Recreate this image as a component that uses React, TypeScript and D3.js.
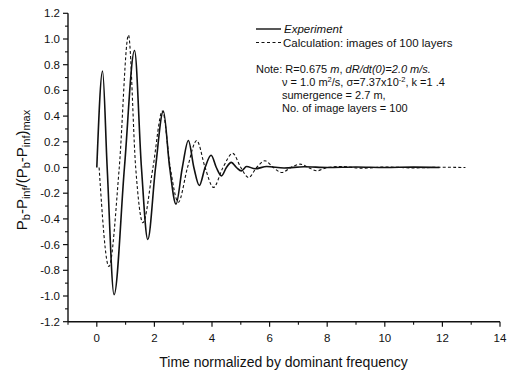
import React from "react";
import * as d3 from "d3";

const W = 507;
const H = 371;

// Experiment (solid): [time, normalized pressure]
const experimentT = [0, 0.2, 0.36, 0.6, 0.96, 1.31, 1.55, 1.77, 2.04, 2.31, 2.53, 2.75, 2.97, 3.18, 3.37, 3.56, 3.76, 3.97, 4.15, 4.33, 4.5, 4.67, 4.85, 5.02, 5.2, 5.5, 5.9, 6.5, 7.2, 8, 9, 10, 11, 11.9];
const experimentV = [0, 0.75, 0.0, -0.99, 0.0, 0.91, 0.0, -0.56, 0, 0.44, 0, -0.285, 0, 0.21, 0, -0.14, 0, 0.095, 0, -0.065, 0, 0.04, 0, -0.026, 0.008, -0.01, 0.008, -0.004, 0.006, 0.0, 0.004, 0, 0.003, 0.0];

// Calculation (dashed)
const calcT = [0.08, 0.42, 0.78, 1.1, 1.35, 1.6, 1.95, 2.28, 2.55, 2.83, 3.15, 3.47, 3.76, 4.05, 4.38, 4.72, 5.0, 5.27, 5.55, 5.84, 6.13, 6.42, 6.74, 7.06, 7.35, 7.64, 8.0, 8.5, 9.2, 10, 11, 12, 12.8];
const calcV = [0, -0.77, 0, 1.03, 0, -0.43, 0, 0.44, 0, -0.27, 0, 0.21, 0, -0.155, 0, 0.11, 0, -0.078, 0, 0.052, 0, -0.039, 0, 0.026, 0, -0.026, 0, 0.008, -0.006, 0.004, -0.003, 0.002, 0];

const xMajorTicks = [0, 2, 4, 6, 8, 10, 12, 14];
const xMinorTicks = [-1, 1, 3, 5, 7, 9, 11, 13];
const yMajorTicks = [1.2, 1.0, 0.8, 0.6, 0.4, 0.2, 0.0, -0.2, -0.4, -0.6, -0.8, -1.0, -1.2];
const yMinorTicks = [1.1, 0.9, 0.7, 0.5, 0.3, 0.1, -0.1, -0.3, -0.5, -0.7, -0.9, -1.1];

const legendLabels = ["Experiment", "Calculation: images of 100 layers"];
const xTitle = "Time normalized by dominant frequency";

const FONT = "'Liberation Sans', Arial, sans-serif";

export default function App() {
  const x = d3.scaleLinear().domain([-1, 14]).range([68, 500]);
  const y = d3.scaleLinear().domain([-1.2, 1.2]).range([321.7, 13.3]);

  const line = d3
    .line<[number, number]>()
    .x((d) => x(d[0]))
    .y((d) => y(d[1]))
    .curve(d3.curveMonotoneX);

  const expData: [number, number][] = experimentT.map((t, i) => [t, experimentV[i]]);
  const calcData: [number, number][] = calcT.map((t, i) => [t, calcV[i]]);

  const x0 = x.range()[0];
  const y0 = y.range()[0];

  return (
    <svg
      width={W}
      height={H}
      style={{ position: "absolute", left: 0, top: 0, background: "#fff" }}
      fontFamily={FONT}
    >
      <rect x={0} y={0} width={W} height={H} fill="#fff" />
      {/* curves */}
      <path d={line(calcData) || ""} fill="none" stroke="#111" strokeWidth={1.1} strokeDasharray="3,2.2" />
      <path d={line(expData) || ""} fill="none" stroke="#111" strokeWidth={1.6} />

      {/* axes */}
      <line x1={x0} y1={y.range()[1]} x2={x0} y2={y0} stroke="#111" strokeWidth={1.4} />
      <line x1={x0} y1={y0} x2={x.range()[1]} y2={y0} stroke="#111" strokeWidth={1.4} />

      {yMajorTicks.map((v) => (
        <g key={"ym" + v}>
          <line x1={x0 - 5} x2={x0} y1={y(v)} y2={y(v)} stroke="#111" strokeWidth={1.2} />
          <text x={x0 - 8} y={y(v) + 4} fontSize={11.5} textAnchor="end" fill="#111">
            {v.toFixed(1)}
          </text>
        </g>
      ))}
      {yMinorTicks.map((v) => (
        <line key={"yn" + v} x1={x0 - 3} x2={x0} y1={y(v)} y2={y(v)} stroke="#111" strokeWidth={1.1} />
      ))}
      {xMajorTicks.map((v) => (
        <g key={"xm" + v}>
          <line x1={x(v)} x2={x(v)} y1={y0} y2={y0 + 5} stroke="#111" strokeWidth={1.2} />
          <text x={x(v)} y={y0 + 20} fontSize={11.5} textAnchor="middle" fill="#111">
            {String(v)}
          </text>
        </g>
      ))}
      {xMinorTicks.map((v) => (
        <line key={"xn" + v} x1={x(v)} x2={x(v)} y1={y0} y2={y0 + 3} stroke="#111" strokeWidth={1.1} />
      ))}

      {/* axis titles */}
      <text x={283.5} y={367} fontSize={14} textAnchor="middle" fill="#111">
        {xTitle}
      </text>
      <text transform="translate(27,170) rotate(-90)" fontSize={15} textAnchor="middle" fill="#111">
        <tspan>P</tspan>
        <tspan fontSize={11} dy={3}>b</tspan>
        <tspan dy={-3}>-P</tspan>
        <tspan fontSize={11} dy={3}>inf</tspan>
        <tspan dy={-3}>/(P</tspan>
        <tspan fontSize={11} dy={3}>b</tspan>
        <tspan dy={-3}>-P</tspan>
        <tspan fontSize={11} dy={3}>inf</tspan>
        <tspan dy={-3}>)</tspan>
        <tspan fontSize={11} dy={3}>max</tspan>
      </text>

      {/* legend */}
      <line x1={256} x2={281} y1={29} y2={29} stroke="#111" strokeWidth={1.4} />
      <text x={284} y={33} fontSize={11.5} fill="#111" fontStyle="italic">
        {legendLabels[0]}
      </text>
      <line x1={256} x2={281} y1={42.5} y2={42.5} stroke="#111" strokeWidth={1.1} strokeDasharray="3,2.5" />
      <text x={283} y={46.5} fontSize={11.5} fill="#111">
        {legendLabels[1]}
      </text>

      {/* note */}
      <text x={256} y={73} fontSize={11} fill="#111">
        <tspan>Note: R=0.675 </tspan>
        <tspan fontStyle="italic">m</tspan>
        <tspan>, </tspan>
        <tspan fontStyle="italic">dR/dt(0)=2.0 m/s.</tspan>
      </text>
      <text x={282} y={85.5} fontSize={11} fill="#111">
        <tspan>ν = 1.0 m</tspan>
        <tspan fontSize={7.5} dy={-4}>2</tspan>
        <tspan dy={4}>/s, σ=7.37x10</tspan>
        <tspan fontSize={7.5} dy={-4}>-2</tspan>
        <tspan dy={4}>, k =1 .4</tspan>
      </text>
      <text x={282} y={98.5} fontSize={11} fill="#111">
        sumergence = 2.7 m,
      </text>
      <text x={282} y={111.5} fontSize={11} fill="#111">
        No. of image layers = 100
      </text>
    </svg>
  );
}
